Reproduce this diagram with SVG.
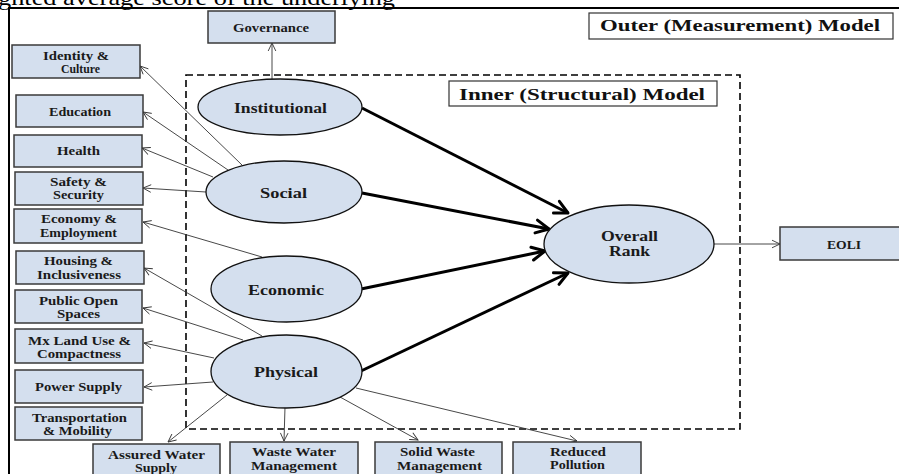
<svg xmlns="http://www.w3.org/2000/svg" width="899" height="474" viewBox="0 0 899 474">
<defs>
<style>
.box{fill:#d4dfee;stroke:#3a3a3a;stroke-width:1.5}
.ell{fill:#d4dfee;stroke:#111;stroke-width:1.3}
.lab{fill:#fff;stroke:#333;stroke-width:1.2}
.t{font-family:"Liberation Serif","Times New Roman",serif;font-weight:bold;font-size:12.3px;fill:#1a1a1a}
.te{font-family:"Liberation Serif","Times New Roman",serif;font-weight:bold;font-size:15px;fill:#1a1a1a}
.tm{font-family:"Liberation Serif","Times New Roman",serif;font-weight:bold;font-size:17.5px;fill:#111}
.thin{fill:none;stroke:#333;stroke-width:0.9;marker-end:url(#ah)}
.thick{fill:none;stroke:#000;stroke-width:3;marker-end:url(#ahb)}
</style>
<marker id="ah" markerUnits="userSpaceOnUse" markerWidth="12" markerHeight="12" viewBox="0 0 12 12" refX="9" refY="6" orient="auto">
<path d="M1,2.2 L9,6 L1,9.8" fill="none" stroke="#333" stroke-width="0.9"/>
</marker>
<marker id="ahb" markerUnits="userSpaceOnUse" markerWidth="20" markerHeight="20" viewBox="0 0 20 20" refX="16" refY="10" orient="auto">
<path d="M3,3.5 L16,10 L3,16.5" fill="none" stroke="#000" stroke-width="3" stroke-linejoin="round" stroke-linecap="round"/>
</marker>
</defs>
<rect width="899" height="474" fill="#fff"/>
<text x="-2" y="5" font-family="Liberation Serif, Times New Roman, serif" font-size="22" fill="#000" textLength="397" lengthAdjust="spacingAndGlyphs">ghted average score of the underlying</text>
<path d="M9,474 L9,8 L899,8" fill="none" stroke="#000" stroke-width="2"/>
<rect x="186" y="75" width="554" height="354" fill="none" stroke="#000" stroke-width="1.6" stroke-dasharray="7 4"/>

<g id="connectors">
<line class="thin" x1="272" y1="79" x2="272" y2="43"/>
<line class="thin" x1="242" y1="165" x2="140" y2="66"/>
<line class="thin" x1="228" y1="170" x2="143" y2="112"/>
<line class="thin" x1="213" y1="177" x2="142" y2="148"/>
<line class="thin" x1="206" y1="192" x2="143" y2="188"/>
<line class="thin" x1="262" y1="257" x2="143" y2="222"/>
<line class="thin" x1="262" y1="336" x2="144" y2="268"/>
<line class="thin" x1="243" y1="340" x2="143" y2="308"/>
<line class="thin" x1="214" y1="358" x2="144" y2="343"/>
<line class="thin" x1="213" y1="382" x2="144" y2="387"/>
<line class="thin" x1="227" y1="395" x2="168" y2="442"/>
<line class="thin" x1="285" y1="407" x2="284" y2="441"/>
<line class="thin" x1="340" y1="397" x2="418" y2="440"/>
<line class="thin" x1="356" y1="388" x2="577" y2="441"/>
<line class="thin" x1="714" y1="244" x2="780" y2="244"/>
<line class="thick" x1="362" y1="108" x2="568" y2="213"/>
<line class="thick" x1="362" y1="193" x2="549" y2="229"/>
<line class="thick" x1="361" y1="289" x2="545" y2="251"/>
<line class="thick" x1="361" y1="371" x2="568" y2="273"/>
</g>

<g id="outer-label"><rect class="lab" x="589" y="13" width="304" height="26"/><text class="tm" x="600" y="31" textLength="280" lengthAdjust="spacingAndGlyphs">Outer (Measurement) Model</text></g>
<g id="inner-label"><rect class="lab" x="449" y="81" width="268" height="25"/><text class="tm" x="459" y="99.5" textLength="246" lengthAdjust="spacingAndGlyphs">Inner (Structural) Model</text></g>

<g id="governance"><rect class="box" x="208" y="11" width="127" height="32"/><text class="t" x="233" y="32" textLength="76" lengthAdjust="spacingAndGlyphs">Governance</text></g>
<g id="identity"><rect class="box" x="12" y="45" width="128" height="33"/><text class="t" x="43" y="60" textLength="66" lengthAdjust="spacingAndGlyphs">Identity &amp;</text><text class="t" x="61" y="73" textLength="39" lengthAdjust="spacingAndGlyphs">Culture</text></g>
<g id="education"><rect class="box" x="16" y="95" width="127" height="32"/><text class="t" x="49" y="116" textLength="62" lengthAdjust="spacingAndGlyphs">Education</text></g>
<g id="health"><rect class="box" x="14" y="135" width="128" height="32"/><text class="t" x="57" y="155" textLength="43" lengthAdjust="spacingAndGlyphs">Health</text></g>
<g id="safety"><rect class="box" x="15" y="172" width="128" height="33"/><text class="t" x="50" y="186" textLength="57" lengthAdjust="spacingAndGlyphs">Safety &amp;</text><text class="t" x="53" y="199" textLength="51" lengthAdjust="spacingAndGlyphs">Security</text></g>
<g id="economy"><rect class="box" x="14" y="209" width="128" height="34"/><text class="t" x="41" y="223" textLength="76" lengthAdjust="spacingAndGlyphs">Economy &amp;</text><text class="t" x="40" y="237" textLength="77" lengthAdjust="spacingAndGlyphs">Employment</text></g>
<g id="housing"><rect class="box" x="16" y="251" width="128" height="33"/><text class="t" x="44" y="265" textLength="69" lengthAdjust="spacingAndGlyphs">Housing &amp;</text><text class="t" x="37" y="279" textLength="84" lengthAdjust="spacingAndGlyphs">Inclusiveness</text></g>
<g id="public-open"><rect class="box" x="15" y="290" width="127" height="33"/><text class="t" x="39" y="305" textLength="79" lengthAdjust="spacingAndGlyphs">Public Open</text><text class="t" x="57" y="318" textLength="43" lengthAdjust="spacingAndGlyphs">Spaces</text></g>
<g id="mx-land"><rect class="box" x="15" y="329" width="128" height="34"/><text class="t" x="28" y="345" textLength="103" lengthAdjust="spacingAndGlyphs">Mx Land Use &amp;</text><text class="t" x="37" y="358" textLength="84" lengthAdjust="spacingAndGlyphs">Compactness</text></g>
<g id="power"><rect class="box" x="15" y="370" width="128" height="33"/><text class="t" x="35" y="391" textLength="87" lengthAdjust="spacingAndGlyphs">Power Supply</text></g>
<g id="transport"><rect class="box" x="15" y="407" width="127" height="33"/><text class="t" x="32" y="422" textLength="95" lengthAdjust="spacingAndGlyphs">Transportation</text><text class="t" x="43" y="434.5" textLength="69" lengthAdjust="spacingAndGlyphs">&amp; Mobility</text></g>
<g id="water"><rect class="box" x="93" y="444" width="127" height="34"/><text class="t" x="108" y="459" textLength="97" lengthAdjust="spacingAndGlyphs">Assured Water</text><text class="t" x="135" y="472" textLength="42" lengthAdjust="spacingAndGlyphs">Supply</text></g>
<g id="wastewater"><rect class="box" x="230" y="442" width="128" height="34"/><text class="t" x="252" y="456" textLength="84" lengthAdjust="spacingAndGlyphs">Waste Water</text><text class="t" x="251" y="470" textLength="86" lengthAdjust="spacingAndGlyphs">Management</text></g>
<g id="solidwaste"><rect class="box" x="375" y="442" width="127" height="34"/><text class="t" x="400" y="456" textLength="75" lengthAdjust="spacingAndGlyphs">Solid Waste</text><text class="t" x="397" y="470" textLength="85" lengthAdjust="spacingAndGlyphs">Management</text></g>
<g id="pollution"><rect class="box" x="513" y="442" width="128" height="34"/><text class="t" x="550" y="456" textLength="56" lengthAdjust="spacingAndGlyphs">Reduced</text><text class="t" x="550" y="468.5" textLength="55" lengthAdjust="spacingAndGlyphs">Pollution</text></g>
<g id="eoli"><rect class="box" x="780" y="227" width="128" height="33"/><text class="t" x="827" y="249" textLength="34" lengthAdjust="spacingAndGlyphs">EOLI</text></g>

<g id="institutional"><ellipse class="ell" cx="280" cy="107" rx="82" ry="28"/><text class="te" x="234" y="112.5" textLength="93" lengthAdjust="spacingAndGlyphs">Institutional</text></g>
<g id="social"><ellipse class="ell" cx="284" cy="192" rx="78" ry="31"/><text class="te" x="260" y="197.5" textLength="47" lengthAdjust="spacingAndGlyphs">Social</text></g>
<g id="economic"><ellipse class="ell" cx="286.5" cy="289" rx="75.5" ry="33"/><text class="te" x="248" y="295" textLength="76" lengthAdjust="spacingAndGlyphs">Economic</text></g>
<g id="physical"><ellipse class="ell" cx="286.5" cy="371.5" rx="75.5" ry="36.5"/><text class="te" x="254" y="377" textLength="64" lengthAdjust="spacingAndGlyphs">Physical</text></g>
<g id="overall"><ellipse class="ell" cx="629" cy="244" rx="85" ry="39"/><text class="te" x="601" y="241" textLength="57" lengthAdjust="spacingAndGlyphs">Overall</text><text class="te" x="609" y="256" textLength="41" lengthAdjust="spacingAndGlyphs">Rank</text></g>
</svg>
